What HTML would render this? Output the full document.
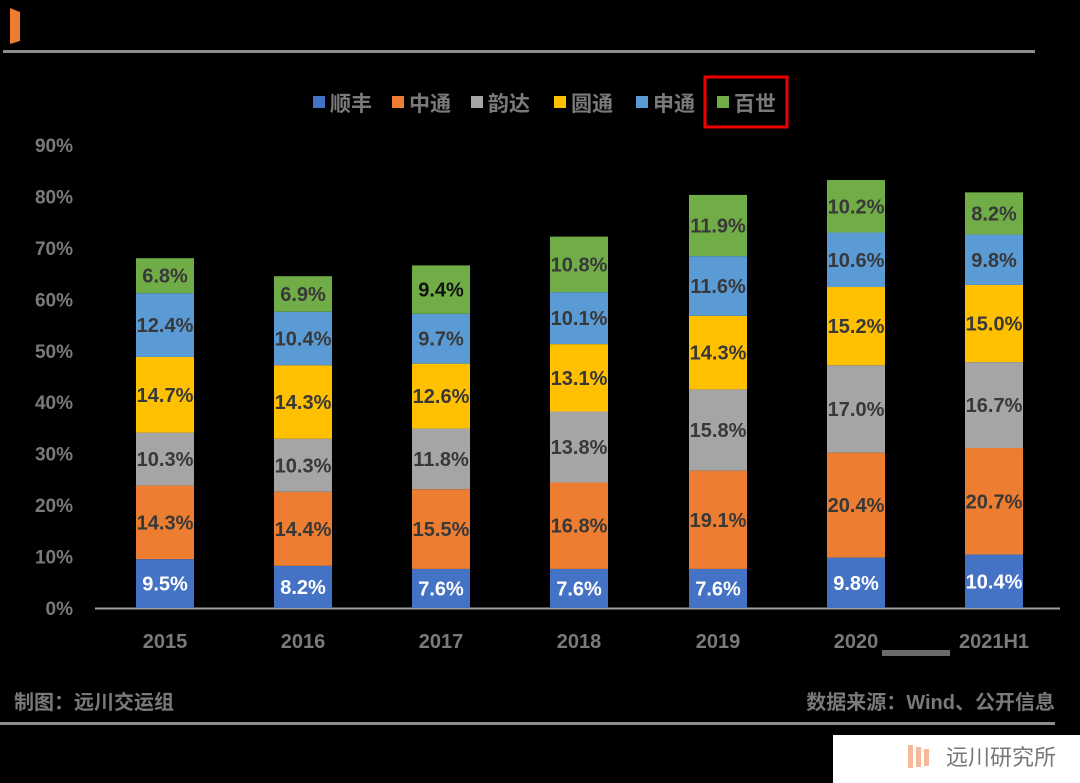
<!DOCTYPE html>
<html><head><meta charset="utf-8"><style>
body{margin:0;background:#000;width:1080px;height:783px;overflow:hidden;font-family:"Liberation Sans","Noto Sans CJK SC",sans-serif}
</style></head><body>
<svg id="s" width="1080" height="783" xmlns="http://www.w3.org/2000/svg" style="display:block">
<rect width="1080" height="783" fill="#000"/>
<polygon points="10,8 20,12 20,41 10,44" fill="#ed7d31"/>
<rect x="3" y="50" width="1032" height="3" fill="#8c8c8c"/>
<rect x="705" y="77" width="82" height="50" fill="none" stroke="#e00" stroke-width="3"/>
<line x1="95" y1="608.5" x2="1060" y2="608.5" stroke="#a0a0a0" stroke-width="2"/>
<rect x="882" y="650" width="68" height="6" fill="#6b6b6b"/>
<rect x="0" y="722" width="1055" height="3" fill="#8c8c8c"/>
<text x="14" y="709" font-size="20" font-weight="bold" fill="#7a7a7a">制图：远川交运组</text>
<text x="1055" y="709" font-size="20" font-weight="bold" fill="#7a7a7a" text-anchor="end">数据来源：Wind、公开信息</text>
<rect x="833" y="735" width="247" height="48" fill="#fff"/>
<rect x="908" y="745" width="5" height="23" fill="#f4b89a"/>
<rect x="916" y="747" width="5" height="20" fill="#f4b89a"/>
<rect x="924" y="749" width="5" height="17" fill="#f4b89a"/>
<text x="946" y="765" font-size="22" fill="#777">远川研究所</text>
<g id="g"></g>
</svg>
<script>
var g=document.getElementById('g'),h='';
var cols=['#4472c4','#ed7d31','#a5a5a5','#ffc000','#5b9bd5','#70ad47'];
var names=['顺丰','中通','韵达','圆通','申通','百世'];
var lx=[313,392,471,554,636,717];
for(var i=0;i<6;i++){h+='<rect x="'+lx[i]+'" y="96" width="12" height="12" fill="'+cols[i]+'"/><text x="'+(lx[i]+17)+'" y="111" font-size="21" font-weight="bold" fill="#7a7a7a">'+names[i]+'</text>';}
var y0=608,k=5.144;
for(var t=0;t<=9;t++){h+='<text x="73" y="'+(y0-t*10*k+7)+'" font-size="19" font-weight="bold" fill="#7a7a7a" text-anchor="end">'+(t*10)+'%</text>';}
var yrs=['2015','2016','2017','2018','2019','2020','2021H1'];
var xs=[165,303,441,579,718,856,994];
var d=[[9.5,14.3,10.3,14.7,12.4,6.8],[8.2,14.4,10.3,14.3,10.4,6.9],[7.6,15.5,11.8,12.6,9.7,9.4],[7.6,16.8,13.8,13.1,10.1,10.8],[7.6,19.1,15.8,14.3,11.6,11.9],[9.8,20.4,17.0,15.2,10.6,10.2],[10.4,20.7,16.7,15.0,9.8,8.2]];
for(var b=0;b<7;b++){var c=0;for(var s=0;s<6;s++){var v=d[b][s];var yt=y0-(c+v)*k,yb=y0-c*k;
h+='<rect x="'+(xs[b]-29)+'" y="'+yt+'" width="58" height="'+(yb-yt)+'" fill="'+cols[s]+'"/>';
var fc=s==0?'#fff':(b==2&&s==5?'#111':'#383838');
h+='<text x="'+xs[b]+'" y="'+((yt+yb)/2+7)+'" font-size="20" font-weight="bold" fill="'+fc+'" text-anchor="middle">'+v.toFixed(1)+'%</text>';c+=v;}
h+='<text x="'+xs[b]+'" y="648" font-size="20" font-weight="bold" fill="#7a7a7a" text-anchor="middle">'+yrs[b]+'</text>';}
g.innerHTML=h;
</script>
</body></html>
